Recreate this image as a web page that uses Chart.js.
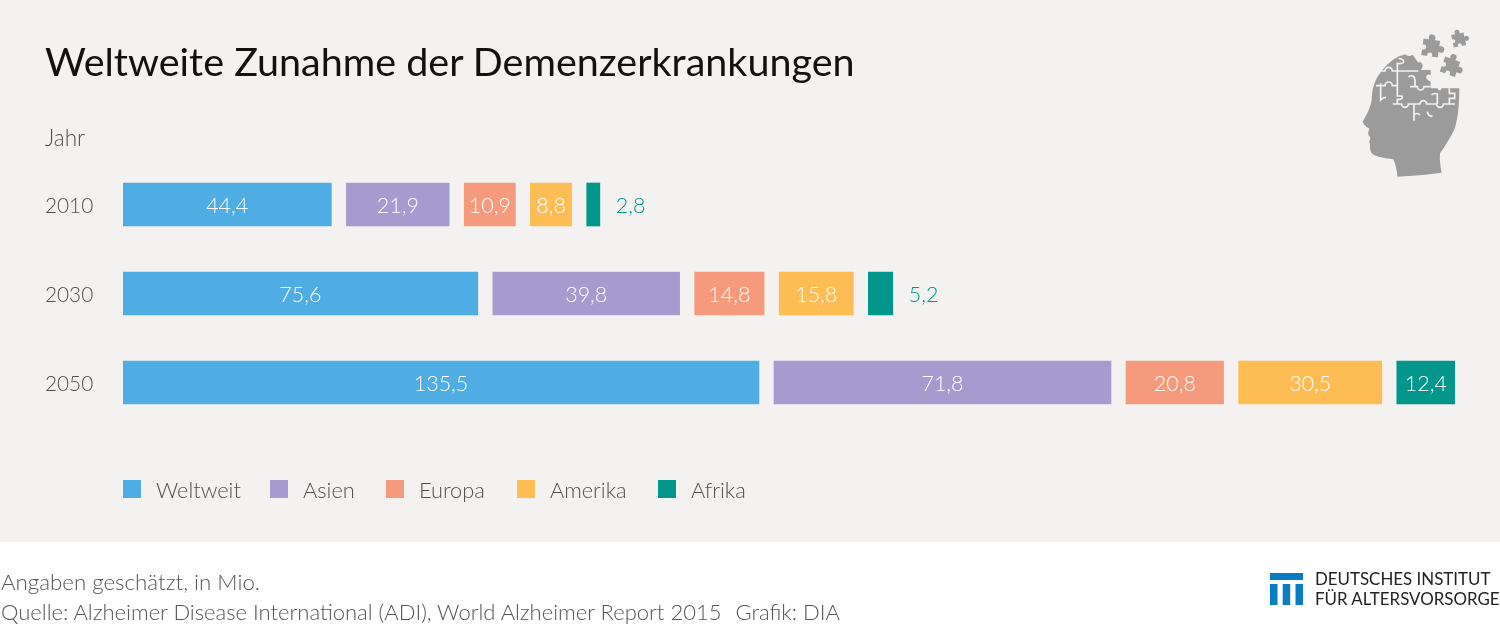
<!DOCTYPE html>
<html lang="de">
<head>
<meta charset="utf-8">
<title>Weltweite Zunahme der Demenzerkrankungen</title>
<script src="https://cdn.jsdelivr.net/npm/chart.js@4"></script>
<style>
    html, body { margin: 0; padding: 0; background: #fff; }
    body { width: 1500px; height: 625px; position: relative; overflow: hidden; font-family: Lato, sans-serif; font-weight: 300; color: #505052; }
    .panel { position: absolute; left: 0; top: 0; width: 1500px; height: 542px; background: #f3f2f1; }
    canvas { position: absolute; left: 0; top: 0; }
    .txt { position: absolute; white-space: nowrap; line-height: 1; }
    #title { left: 45px; top: 41px; font-size: 39.5px; font-weight: 400; color: #111; }
    #jahr { left: 45px; top: 127px; font-size: 22.5px; }
    #note { left: 1px; top: 571px; font-size: 22.3px; color: #555; }
    #source { left: 1px; top: 601px; font-size: 22px; color: #555; }
    #source span { margin-left: 14px; }
    #legend { position: absolute; left: 123px; top: 478px; height: 22px; display: flex; align-items: center; font-size: 21.8px; }
    #legend span.box { width: 18px; height: 18px; margin-right: 15px; flex: none; }
    #legend span.lab { white-space: nowrap; }
    #head { position: absolute; left: 1340px; top: 20px; }
    #logo { position: absolute; left: 1270px; top: 573px; }
    .logotxt { color: #222; font-size: 16.9px; font-weight: 400; }
</style>
</head>
<body>
<div class="panel"></div>
<canvas id="chart" width="1500" height="625"></canvas>

<div class="txt" id="title">Weltweite Zunahme der Demenzerkrankungen</div>
<div class="txt" id="jahr">Jahr</div>
<div id="legend"></div>
<div class="txt" id="note">Angaben geschätzt, in Mio.</div>
<div class="txt" id="source">Quelle: Alzheimer Disease International (ADI), World Alzheimer Report 2015<span>Grafik: DIA</span></div>

<!-- head icon -->
<svg id="head" width="160" height="170" viewBox="0 0 480 510">
    <defs>
        <g id="piece">
            <rect x="-20" y="-20" width="40" height="40" fill="#9b9b9b"/>
            <circle cx="0" cy="-25" r="8" fill="#9b9b9b"/>
            <circle cx="25" cy="0" r="8" fill="#9b9b9b"/>
            <circle cx="-17" cy="0" r="6" fill="#f3f2f1"/>
            <circle cx="0" cy="17" r="6" fill="#f3f2f1"/>
        </g>
    </defs>
    <path fill="#9b9b9b" d="M172 470 Q240 468 305 458 Q298 425 300 400 Q318 375 340 335 Q358 295 358 205 L305 205 Q300 218 292 205 L274 205 Q270 195 272 185 Q258 178 258 170 Q262 160 272 165 L272 150 L242 150 Q255 135 240 125 L235 128 L218 104 Q205 112 195 103 Q185 108 178 108 Q135 130 110 175 Q95 205 95 240 Q92 265 68 305 Q72 318 88 325 Q84 335 85 345 Q93 352 90 358 Q86 365 90 372 Q88 395 97 402 Q110 412 160 418 Q170 440 172 470 Z"/>
    <g fill="none" stroke="#f3f2f1" stroke-width="5">
        <path d="M120 153 H135 A11 11 0 0 1 157 153 H235"/>
        <path d="M176 115 Q195 118 190 128 Q178 132 172 130 V200 V228 H186 Q190 240 172 238 V252"/>
        <path d="M108 197 H135 A11 11 0 0 1 157 197 H172"/>
        <path d="M122 190 V240 Q130 232 138 232"/>
        <path d="M158 252 H185 A10 10 0 0 0 205 252 H240 A10 10 0 0 1 260 252 H290 A10 10 0 0 0 310 252 H345"/>
        <path d="M222 252 V302 M222 285 Q232 276 240 285"/>
        <path d="M262 275 Q264 290 278 288 M275 225 Q280 218 292 222 V252"/>
        <path d="M328 205 V220 H344 V235 H328 V252"/>
        <path d="M210 200 H232 A10 10 0 0 0 252 200 H272"/>
        <path d="M205 170 Q225 160 225 185 V200"/>
    </g>
    <use href="#piece" transform="translate(272 84) rotate(8) scale(1.25)"/>
    <use href="#piece" transform="translate(356 60) rotate(-12) scale(.95)"/>
    <use href="#piece" transform="translate(330 140) rotate(20) scale(1.2)"/>
</svg>

<!-- DIA logo -->
<svg id="logo" width="33" height="33" viewBox="0 0 33 33">
    <rect x="0" y="0" width="33" height="7" fill="#0a7cc4"/>
    <rect x="0" y="11" width="7.5" height="21" fill="#0a7cc4"/>
    <rect x="12.7" y="11" width="7.5" height="21" fill="#0a7cc4"/>
    <rect x="25.5" y="11" width="7.5" height="21" fill="#0a7cc4"/>
</svg>
<div class="txt logotxt" style="left:1315px;top:571px">DEUTSCHES INSTITUT</div>
<div class="txt logotxt" style="left:1315px;top:591px">FÜR ALTERSVORSORGE</div>

<script>
/* ==============================
   DATA (Mio.)
================================ */
const years = ["2010", "2030", "2050"];
const seriesNames = ["Weltweit", "Asien", "Europa", "Amerika", "Afrika"];
const seriesColors = ["#4fade3", "#a69bce", "#f59a7c", "#fdbd54", "#03968a"];

const weltweit = [44.4, 75.6, 135.5];
const asien = [21.9, 39.8, 71.8];
const europa = [10.9, 14.8, 20.8];
const amerika = [8.8, 15.8, 30.5];
const afrika = [2.8, 5.2, 12.4];

const seriesValues = [weltweit, asien, europa, amerika, afrika];

// empty piece of the stack between two bars, same unit as the values
const gapValue = 3.2;

/* ==============================
   LEGEND
================================ */
const legendLabelWidths = [114, 83, 98, 108, 60];
const legend = document.getElementById("legend");
seriesNames.forEach((name, i) => {
    const box = document.createElement("span");
    box.className = "box";
    box.style.background = seriesColors[i];
    const lab = document.createElement("span");
    lab.className = "lab";
    lab.style.width = legendLabelWidths[i] + "px";
    lab.textContent = name;
    legend.appendChild(box);
    legend.appendChild(lab);
});

/* ==============================
   DATASETS
================================ */
const datasets = [];
seriesNames.forEach((name, i) => {
    datasets.push({
        label: name,
        data: seriesValues[i],
        backgroundColor: seriesColors[i],
        stack: "s"
    });
    if (i < seriesNames.length - 1) {
        datasets.push({
            label: "gap",
            data: years.map(() => gapValue),
            backgroundColor: "transparent",
            stack: "s"
        });
    }
});

/* ==============================
   VALUE LABELS
================================ */
const valueLabels = {
    id: "valueLabels",
    afterDatasetsDraw(chart) {
        const ctx = chart.ctx;
        ctx.save();
        ctx.font = "300 21.5px Lato";
        ctx.textBaseline = "middle";
        chart.data.datasets.forEach((ds, d) => {
            if (ds.label === "gap") return;
            chart.getDatasetMeta(d).data.forEach((bar, i) => {
                const txt = ds.data[i].toFixed(1).replace(".", ",");
                const w = ctx.measureText(txt).width;
                if (w + 8 < bar.width) {
                    ctx.fillStyle = "#fff";
                    ctx.textAlign = "center";
                    ctx.fillText(txt, bar.base + (bar.x - bar.base) / 2, bar.y + 2);
                } else {
                    ctx.fillStyle = ds.backgroundColor;
                    ctx.textAlign = "left";
                    ctx.fillText(txt, bar.x + 16, bar.y + 2);
                }
            });
        });
        ctx.restore();
    }
};

/* ==============================
   CHART
================================ */
new Chart(document.getElementById("chart"), {
    type: "bar",
    data: { labels: years, datasets: datasets },
    plugins: [valueLabels],
    options: {
        indexAxis: "y",
        responsive: false,
        animation: false,
        layout: { padding: { left: 45, right: 45, top: 160, bottom: 198 } },
        plugins: {
            legend: { display: false },
            tooltip: { enabled: false }
        },
        datasets: { bar: { barThickness: 43 } },
        scales: {
            x: {
                display: false,
                stacked: true,
                min: 0,
                max: 283.8
            },
            y: {
                stacked: true,
                afterFit: scale => { scale.width = 78; },
                grid: { display: false },
                border: { display: false },
                ticks: {
                    crossAlign: "far",
                    padding: 0,
                    labelOffset: 2,
                    color: "#505052",
                    font: { family: "Lato", size: 20.8, weight: "300" }
                }
            }
        }
    }
});
</script>
</body>
</html>
